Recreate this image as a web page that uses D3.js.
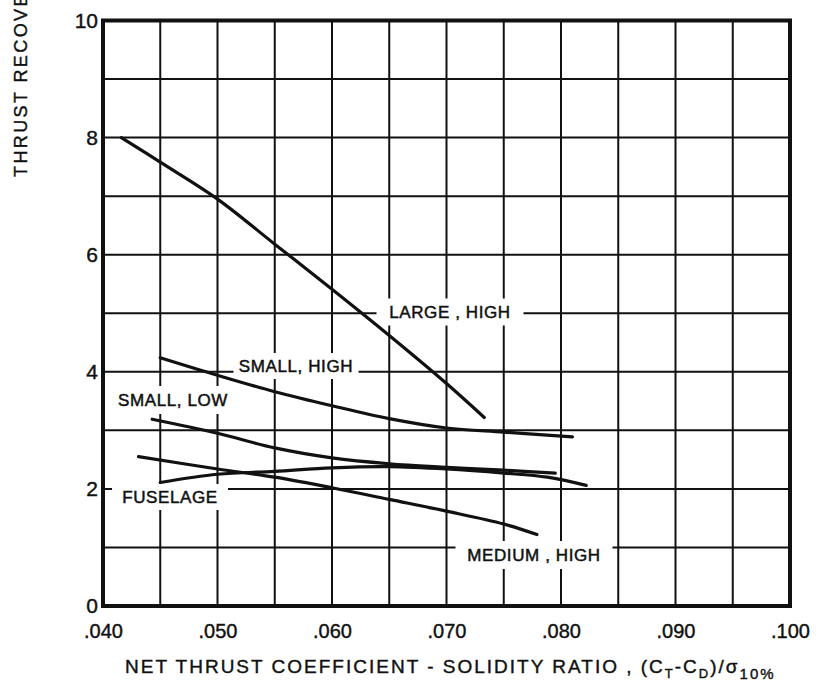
<!DOCTYPE html>
<html>
<head>
<meta charset="utf-8">
<script src="https://cdn.jsdelivr.net/npm/d3@7"></script>
<style>
  html, body { margin: 0; padding: 0; background: #fff; }
  svg { display: block; font-family: "Liberation Sans", Arial, sans-serif; }
</style>
</head>
<body>
<svg id="chart" width="819" height="690"></svg>
<script>
// Axis ticks and labels
const xTicks = [0.040, 0.050, 0.060, 0.070, 0.080, 0.090, 0.100];
const xTickLabels = [".040", ".050", ".060", ".070", ".080", ".090", ".100"];
const yTicks = [0, 2, 4, 6, 8, 10];
const yTickLabels = ["0", "2", "4", "6", "8", "10"];

// Curves: net thrust coefficient-solidity ratio vs thrust recovery
const largeHighX = [0.0416, 0.045, 0.050, 0.055, 0.060, 0.065, 0.070, 0.0733];
const largeHighY = [8.00, 7.58, 6.95, 6.18, 5.41, 4.62, 3.80, 3.22];

const smallHighX = [0.045, 0.050, 0.055, 0.060, 0.065, 0.070, 0.075, 0.081];
const smallHighY = [4.24, 3.94, 3.66, 3.42, 3.20, 3.04, 2.97, 2.89];

const smallLowX = [0.0443, 0.050, 0.055, 0.060, 0.065, 0.070, 0.075, 0.0795];
const smallLowY = [3.19, 2.95, 2.70, 2.53, 2.43, 2.37, 2.32, 2.27];

const fuselageX = [0.045, 0.050, 0.055, 0.060, 0.065, 0.070, 0.075, 0.0788, 0.0822];
const fuselageY = [2.11, 2.25, 2.30, 2.36, 2.38, 2.34, 2.27, 2.20, 2.06];

const mediumHighX = [0.0431, 0.050, 0.055, 0.060, 0.065, 0.070, 0.075, 0.0779];
const mediumHighY = [2.55, 2.34, 2.20, 2.02, 1.82, 1.62, 1.40, 1.22];

const seriesNames = ["LARGE , HIGH", "SMALL, HIGH", "SMALL, LOW", "FUSELAGE", "MEDIUM , HIGH"];

const svg = d3.select("#chart");
const ink = "#111";

const plotLeft = 103, plotRight = 790, plotTop = 20.5, plotBottom = 606;
const x = d3.scaleLinear().domain([0.040, 0.100]).range([plotLeft, plotRight]);
const y = d3.scaleLinear().domain([0, 10]).range([plotBottom, plotTop]);

// Grid: every .005 across, every 1 unit up
const gx = d3.range(0, 13).map(i => 0.040 + i * 0.005);
const gy = d3.range(0, 11);
const grid = svg.append("g").attr("stroke", ink).attr("stroke-width", 2);
grid.selectAll("line.v").data(gx).join("line")
  .attr("class", "v")
  .attr("x1", d => x(d)).attr("x2", d => x(d))
  .attr("y1", y(0)).attr("y2", y(10));
grid.selectAll("line.h").data(gy).join("line")
  .attr("class", "h")
  .attr("x1", x(0.040)).attr("x2", x(0.100))
  .attr("y1", d => y(d)).attr("y2", d => y(d));

// Curve labels with white backing that breaks the grid
const labels = [
  { text: seriesNames[0], cx: 450, cy: 312, w: 147, h: 27 },
  { text: seriesNames[1], cx: 296, cy: 366, w: 125, h: 26 },
  { text: seriesNames[2], cx: 173, cy: 400, w: 125, h: 28 },
  { text: seriesNames[3], cx: 170, cy: 497, w: 116, h: 26 },
  { text: seriesNames[4], cx: 534, cy: 555, w: 157, h: 28 }
];
svg.append("g").selectAll("rect").data(labels).join("rect")
  .attr("x", d => d.cx - d.w / 2).attr("y", d => d.cy - d.h / 2)
  .attr("width", d => d.w).attr("height", d => d.h)
  .attr("fill", "#fff");

// Curves
const line = d3.line()
  .x(d => x(d[0])).y(d => y(d[1]))
  .curve(d3.curveCatmullRom.alpha(0.5));
const series = [
  d3.zip(largeHighX, largeHighY),
  d3.zip(smallHighX, smallHighY),
  d3.zip(smallLowX, smallLowY),
  d3.zip(fuselageX, fuselageY),
  d3.zip(mediumHighX, mediumHighY)
];
svg.append("g").selectAll("path").data(series).join("path")
  .attr("d", line)
  .attr("fill", "none")
  .attr("stroke", ink)
  .attr("stroke-width", 3.2)
  .attr("stroke-linecap", "round");

svg.append("g").selectAll("text").data(labels).join("text")
  .attr("x", d => d.cx).attr("y", d => d.cy)
  .attr("text-anchor", "middle")
  .attr("dominant-baseline", "central")
  .attr("font-size", 17)
  .attr("letter-spacing", 0.6)
  .attr("fill", ink).attr("stroke", ink).attr("stroke-width", 0.5)
  .text(d => d.text);

// Frame
svg.append("rect")
  .attr("x", plotLeft).attr("y", plotTop)
  .attr("width", plotRight - plotLeft).attr("height", plotBottom - plotTop)
  .attr("fill", "none").attr("stroke", ink).attr("stroke-width", 4);

// Axes (labels only; grid carries the ticks)
const xAxis = d3.axisBottom(x).tickValues(xTicks)
  .tickFormat((d, i) => xTickLabels[i]).tickSize(0).tickPadding(18);
const xg = svg.append("g").attr("transform", `translate(0,${plotBottom})`).call(xAxis);
xg.select(".domain").remove();
xg.selectAll("text").attr("font-size", 20).attr("fill", ink)
  .attr("stroke", ink).attr("stroke-width", 0.4)
  .attr("font-family", "Liberation Sans, Arial, sans-serif");

const yAxis = d3.axisLeft(y).tickValues(yTicks)
  .tickFormat((d, i) => yTickLabels[i]).tickSize(0).tickPadding(5);
const yg = svg.append("g").attr("transform", `translate(${plotLeft},0)`).call(yAxis);
yg.select(".domain").remove();
yg.selectAll("text").attr("font-size", 21).attr("fill", ink)
  .attr("stroke", ink).attr("stroke-width", 0.4)
  .attr("font-family", "Liberation Sans, Arial, sans-serif");

// Axis titles
const xt = svg.append("text")
  .attr("x", 125).attr("y", 673)
  .attr("font-size", 19).attr("letter-spacing", 2.0).attr("fill", ink)
  .attr("stroke", ink).attr("stroke-width", 0.4);
xt.append("tspan").text("NET THRUST COEFFICIENT - SOLIDITY RATIO ,  (C");
xt.append("tspan").attr("dy", 5).attr("font-size", 13).text("T");
xt.append("tspan").attr("dy", -5).text("-C");
xt.append("tspan").attr("dy", 5).attr("font-size", 13).text("D");
xt.append("tspan").attr("dy", -5).text(")/σ");
xt.append("tspan").attr("dy", 6).attr("font-size", 15).text("10%");

svg.append("text")
  .attr("transform", "translate(27,177) rotate(-90)")
  .attr("font-size", 18).attr("letter-spacing", 2.4).attr("fill", ink)
  .attr("stroke", ink).attr("stroke-width", 0.4)
  .text("THRUST RECOVERY, PERCENT");
</script>
</body>
</html>
